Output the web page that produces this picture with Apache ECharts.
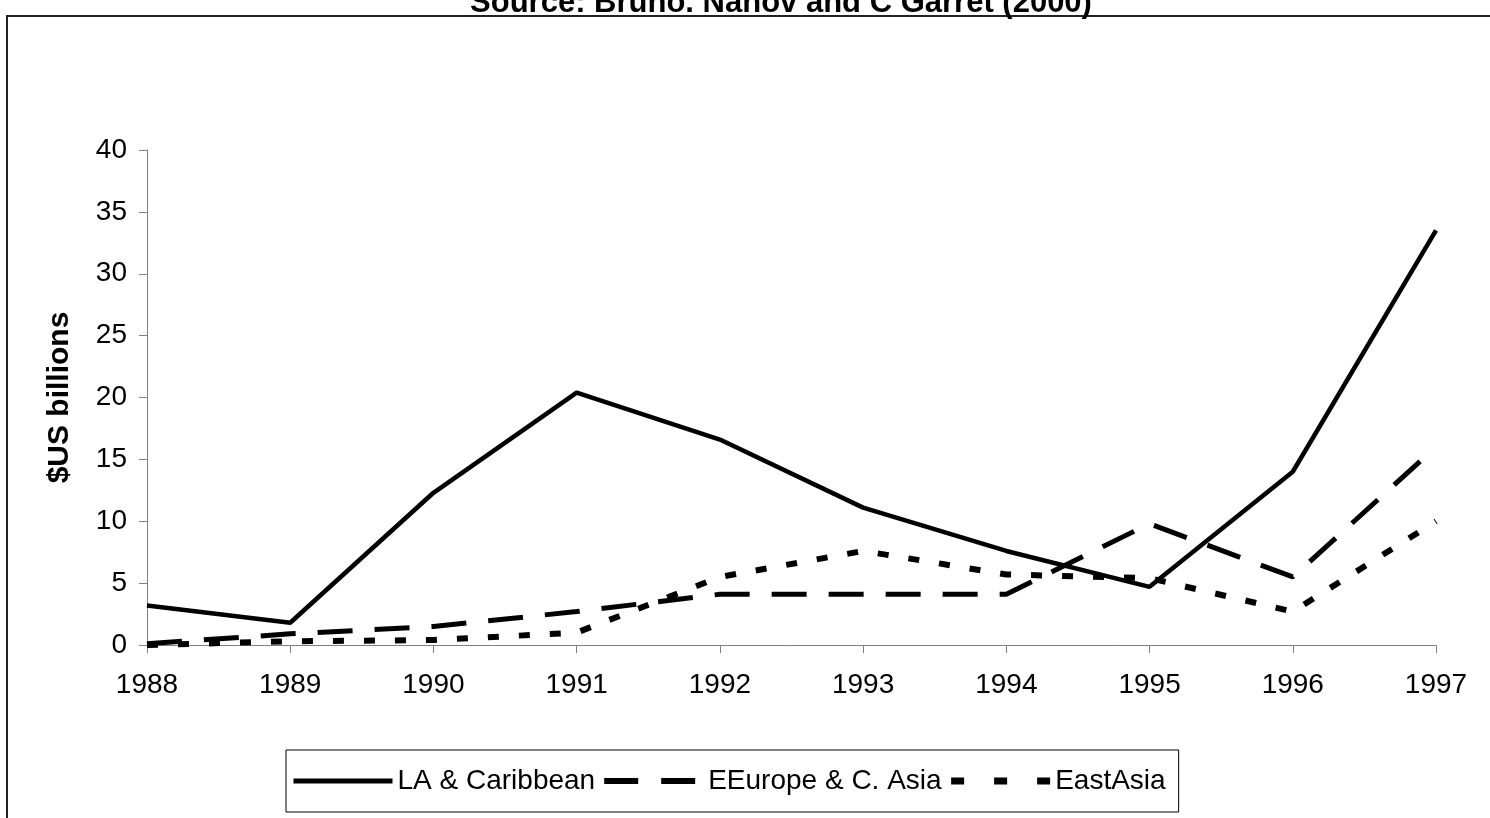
<!DOCTYPE html>
<html>
<head>
<meta charset="utf-8">
<title>Private capital flows</title>
<script src="https://cdn.jsdelivr.net/npm/echarts@6/dist/echarts.min.js"></script>
<style>
html, body { margin: 0; padding: 0; background: #fff; }
#chart { width: 1490px; height: 818px; }
</style>
</head>
<body>
<div id="chart"></div>
<script>
var years = ['1988', '1989', '1990', '1991', '1992', '1993', '1994', '1995', '1996', '1997'];
var laCaribbean = [3.2, 1.8, 12.3, 20.4, 16.6, 11.1, 7.6, 4.7, 14.0, 33.5];
var eEurope = [0.1, 0.9, 1.5, 2.7, 4.1, 4.1, 4.1, 9.8, 5.5, 16.0];
var eastAsia = [0.0, 0.3, 0.4, 1.0, 5.5, 7.6, 5.7, 5.4, 2.7, 10.0];
var seriesNames = ['LA & Caribbean', 'EEurope & C. Asia', 'EastAsia'];

var font = '"Liberation Sans", Arial, sans-serif';

var createLineChart = function(id){
	var myChart = echarts.init(document.getElementById(id));
	var option = {
		animation: false,
		title: {
			text: 'Source: Bruno. Nanov and C Garret (2000)',
			left: 776,
			textAlign: 'center',
			top: -17,
			textStyle: { fontFamily: font, fontSize: 31, fontWeight: 'bold', color: '#000' }
		},
		graphic: [
			{
				type: 'rect',
				shape: { x: 7, y: 16, width: 1600, height: 900 },
				style: { fill: 'none', stroke: '#222', lineWidth: 2 },
				silent: true
			}
		],
		legend: {
			data: [
				{ name: seriesNames[0], itemStyle: { opacity: 0 }, lineStyle: { width: 5, type: 'solid', color: '#000' } },
				{ name: seriesNames[1], itemStyle: { opacity: 0 }, lineStyle: { width: 6, type: [34, 23], color: '#000' } },
				{ name: seriesNames[2], itemStyle: { opacity: 0 }, lineStyle: { width: 7, type: [13, 30], color: '#000' } }
			],
			left: 286,
			top: 750,
			orient: 'horizontal',
			itemWidth: 99,
			itemHeight: 28,
			itemGap: 6,
			padding: [17, 13, 17, 5],
			borderColor: '#000',
			borderWidth: 1,
			selectedMode: false,
			textStyle: { fontFamily: font, fontSize: 28, color: '#000' }
		},
		grid: { left: 147, right: 54, top: 150, bottom: 173 },
		xAxis: {
			type: 'category',
			boundaryGap: false,
			data: years,
			axisLine: { lineStyle: { color: '#808080', width: 1 } },
			axisTick: { alignWithLabel: true, length: 8, lineStyle: { color: '#808080' } },
			axisLabel: { margin: 26, fontFamily: font, fontSize: 28, color: '#000' },
			splitLine: { show: false }
		},
		yAxis: {
			type: 'value',
			min: 0,
			max: 40,
			interval: 5,
			name: '$US billions',
			nameLocation: 'middle',
			nameGap: 72,
			nameTextStyle: { fontFamily: font, fontSize: 30, fontWeight: 'bold', color: '#000' },
			axisLine: { show: true, lineStyle: { color: '#808080', width: 1 } },
			axisTick: { show: true, length: 8, lineStyle: { color: '#808080' } },
			axisLabel: { margin: 20, fontFamily: font, fontSize: 28, color: '#000' },
			splitLine: { show: false }
		},
		series: [
			{
				name: seriesNames[0],
				type: 'line',
				data: laCaribbean,
				symbol: 'none',
				lineStyle: { color: '#000', width: 4.5, type: 'solid' },
				itemStyle: { color: '#000' }
			},
			{
				name: seriesNames[1],
				type: 'line',
				data: eEurope,
				symbol: 'none',
				lineStyle: { color: '#000', width: 5, type: [35, 22] },
				itemStyle: { color: '#000' }
			},
			{
				name: seriesNames[2],
				type: 'line',
				data: eastAsia,
				symbol: 'none',
				lineStyle: { color: '#000', width: 6, type: [11, 20] },
				itemStyle: { color: '#000' }
			}
		]
	};
	myChart.setOption(option);
	window.onresize = function(){
		myChart.resize();
	}
	return myChart;
};

createLineChart('chart');
</script>
</body>
</html>
